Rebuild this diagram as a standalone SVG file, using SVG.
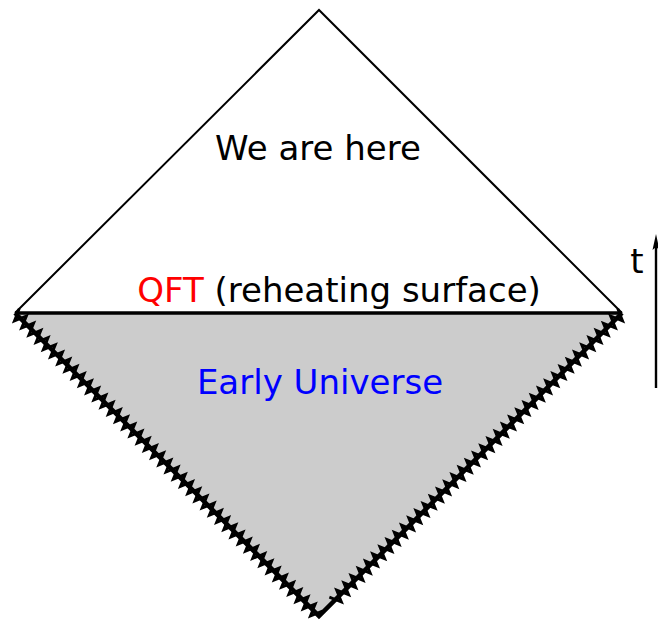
<svg xmlns="http://www.w3.org/2000/svg" width="658" height="620" viewBox="0 0 658 620">
<style>
text{font-family:"DejaVu Sans",sans-serif;font-size:34px}
.edge{fill:none;stroke:#000;stroke-width:2}
.core{fill:none;stroke:#000;stroke-width:4.5}
.zz{fill:none;stroke:#000;stroke-width:2.8;stroke-linejoin:miter;stroke-miterlimit:10}
</style>
<g id="early-universe">
<polygon points="15,313 622,313 319,616" fill="#cccccc"/>
<path class="core" d="M15 313 L319 616 L622 313"/>
<path class="zz" d="M19.24 308.75 l-4.86 12.1 12.08 -4.9 -4.86 12.1 12.08 -4.9 -4.86 12.1 12.08 -4.9 -4.86 12.1 12.08 -4.9 -4.86 12.1 12.08 -4.9 -4.86 12.1 12.08 -4.9 -4.86 12.1 12.08 -4.9 -4.86 12.1 12.08 -4.9 -4.86 12.1 12.08 -4.9 -4.86 12.1 12.08 -4.9 -4.86 12.1 12.08 -4.9 -4.86 12.1 12.08 -4.9 -4.86 12.1 12.08 -4.9 -4.86 12.1 12.08 -4.9 -4.86 12.1 12.08 -4.9 -4.86 12.1 12.08 -4.9 -4.86 12.1 12.08 -4.9 -4.86 12.1 12.08 -4.9 -4.86 12.1 12.08 -4.9 -4.86 12.1 12.08 -4.9 -4.86 12.1 12.08 -4.9 -4.86 12.1 12.08 -4.9 -4.86 12.1 12.08 -4.9 -4.86 12.1 12.08 -4.9 -4.86 12.1 12.08 -4.9 -4.86 12.1 12.08 -4.9 -4.86 12.1 12.08 -4.9 -4.86 12.1 12.08 -4.9 -4.86 12.1 12.08 -4.9 -4.86 12.1 12.08 -4.9 -4.86 12.1 12.08 -4.9 -4.86 12.1 12.08 -4.9 -4.86 12.1 12.08 -4.9 -4.86 12.1 12.08 -4.9 -4.86 12.1 12.08 -4.9 -4.86 12.1 12.08 -4.9 -4.86 12.1 12.08 -4.9 -4.86 12.1 12.08 -4.9 -4.86 12.1 12.08 -4.9 -4.86 12.1 12.08 -4.9 -4.86 12.1 12.08 -4.9 -4.86 12.1 12.08 -4.9"/>
<path class="zz" d="M617.76 308.76 l4.88 12.09 -12.09 -4.88 4.88 12.09 -12.09 -4.88 4.88 12.09 -12.09 -4.88 4.88 12.09 -12.09 -4.88 4.88 12.09 -12.09 -4.88 4.88 12.09 -12.09 -4.88 4.88 12.09 -12.09 -4.88 4.88 12.09 -12.09 -4.88 4.88 12.09 -12.09 -4.88 4.88 12.09 -12.09 -4.88 4.88 12.09 -12.09 -4.88 4.88 12.09 -12.09 -4.88 4.88 12.09 -12.09 -4.88 4.88 12.09 -12.09 -4.88 4.88 12.09 -12.09 -4.88 4.88 12.09 -12.09 -4.88 4.88 12.09 -12.09 -4.88 4.88 12.09 -12.09 -4.88 4.88 12.09 -12.09 -4.88 4.88 12.09 -12.09 -4.88 4.88 12.09 -12.09 -4.88 4.88 12.09 -12.09 -4.88 4.88 12.09 -12.09 -4.88 4.88 12.09 -12.09 -4.88 4.88 12.09 -12.09 -4.88 4.88 12.09 -12.09 -4.88 4.88 12.09 -12.09 -4.88 4.88 12.09 -12.09 -4.88 4.88 12.09 -12.09 -4.88 4.88 12.09 -12.09 -4.88 4.88 12.09 -12.09 -4.88 4.88 12.09 -12.09 -4.88 4.88 12.09 -12.09 -4.88 4.88 12.09 -12.09 -4.88 4.88 12.09 -12.09 -4.88 4.88 12.09 -12.09 -4.88 4.88 12.09 -12.09 -4.88 4.88 12.09 -12.09 -4.88 4.88 12.09 -12.09 -4.88 4.88 12.09 -12.09 -4.88"/>
<text x="320" y="394" text-anchor="middle" fill="#0000ff">Early Universe</text>
</g>
<g id="late-universe">
<path class="edge" d="M15 313 L319 10 L622 313"/>
<text x="318" y="160" text-anchor="middle" fill="#000">We are here</text>
</g>
<g id="reheating-surface">
<line x1="15" y1="313" x2="622" y2="313" stroke="#000" stroke-width="3.5"/>
<text x="339" y="302" text-anchor="middle"><tspan fill="#ff0000">QFT</tspan><tspan fill="#000"> (reheating surface)</tspan></text>
</g>
<g id="connectors">
<line x1="656" y1="388" x2="656" y2="246" stroke="#000" stroke-width="2.4"/>
<polygon points="656,234 659.5,250 656,247 652.5,250" fill="#000"/>
</g>
<g id="time-label">
<text x="637" y="273" text-anchor="middle" fill="#000">t</text>
</g>
</svg>
